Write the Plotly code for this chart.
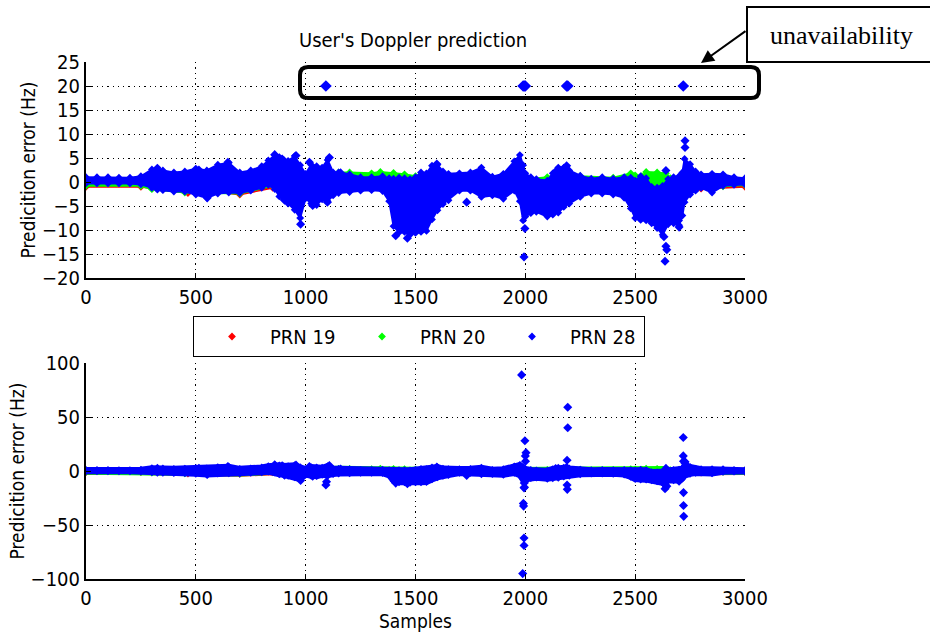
import plotly.graph_objects as go

# ---------------- data ----------------
x_ticks = [0, 500, 1000, 1500, 2000, 2500, 3000]
top_y_ticks = [-20, -15, -10, -5, 0, 5, 10, 15, 20, 25]
bottom_y_ticks = [-100, -50, 0, 50, 100]

# PRN 28 (blue) cloud: upper / lower edge of the dense band
prn28_samples = [0, 50, 100, 150, 200, 250, 300, 325, 350, 400, 450, 500, 550, 600, 650, 700, 750,
                 800, 830, 860, 880, 900, 920, 950, 975, 1000, 1025, 1050, 1075, 1100, 1125, 1150,
                 1200, 1250, 1300, 1350, 1380, 1400, 1425, 1450, 1475, 1500, 1525, 1550, 1575,
                 1600, 1625, 1650, 1700, 1750, 1800, 1850, 1900, 1950, 1975, 1990, 2000, 2025,
                 2050, 2100, 2125, 2150, 2175, 2200, 2250, 2300, 2350, 2400, 2450, 2480, 2500,
                 2525, 2550, 2575, 2600, 2625, 2650, 2675, 2700, 2715, 2725, 2750, 2775, 2800,
                 2850, 2900, 2950, 3000]
prn28_upper = [1.0, 1.0, 1.0, 0.9, 0.9, 1.2, 2.6, 3.0, 2.4, 2.0, 2.2, 2.8, 2.4, 3.6, 4.0, 2.0, 2.4,
               3.3, 4.5, 5.6, 5.2, 4.6, 4.4, 5.4, 3.5, 1.7, 3.6, 3.3, 3.0, 4.6, 2.0, 2.0,
               1.6, 1.0, 1.0, 1.2, 0.8, 0.7, 0.9, 0.8, 0.6, 1.0, 2.0, 1.8, 3.4,
               3.6, 2.2, 1.7, 1.8, 2.0, 3.0, 1.1, 1.7, 4.3, 5.6, 3.5, 1.8, 1.0,
               0.6, 0.3, 1.8, 3.0, 3.0, 2.4, 1.3, 0.7, 1.0, 0.7, 1.0, 0.9, 0.3,
               1.2, 0.8, -1.0, -1.2, -0.8, 0.6, 1.0, 1.2, 2.0, 4.8, 3.7, 2.2, 1.6,
               1.7, 1.6, 1.0, 0.8]
prn28_lower = [-0.3, -0.3, -0.3, -0.3, -0.3, -0.5, -1.2, -1.6, -1.7, -2.0, -2.0, -2.6, -3.3, -2.4, -2.2, -2.3, -1.8,
               -1.2, -0.6, -1.5, -3.0, -3.6, -4.5, -5.8, -7.5, -3.4, -4.5, -4.8, -3.6, -4.0, -2.8, -2.3,
               -2.1, -1.8, -1.7, -1.9, -4.0, -9.2, -10.5, -10.4, -11.0, -10.6, -10.4, -10.2, -7.8,
               -5.9, -4.6, -3.8, -1.8, -1.8, -3.1, -2.8, -3.5, -1.8, -4.0, -8.0, -7.2, -6.5,
               -6.2, -7.2, -6.8, -6.4, -5.2, -4.5, -3.1, -2.4, -2.4, -2.6, -3.3, -5.5, -7.5,
               -7.9, -8.0, -8.6, -9.6, -11.0, -8.8, -8.6, -9.0, -7.0, -4.2, -2.6, -1.8, -1.2,
               -2.2, -0.8, -0.6, -0.5]

# PRN 28 isolated points around the band
prn28_spread_s = [514, 552, 646, 859, 893, 904, 956, 977, 1017, 1032, 1099, 1108, 1159, 1410, 1463,
                  1597, 1733, 1994, 1998, 2138, 2188, 2631, 2640, 2640, 2644, 2636, 2697, 2700, 2727, 2727]
prn28_spread_v = [2.5, -3.3, 4.1, 5.7, 4.8, -3.8, 5.5, -8.8, 4.1, -4.9, -4.2, 5.1, 1.9, -11.2, -11.7,
                  3.75, -4.2, -15.6, -9.7, 2.2, 3.4, -11.4, 2.4, -13.4, -14.1, -16.5, -8.0, -9.4, 8.6, 7.2]

# PRN 20 (green) band
prn20_samples = [0, 250, 300, 450, 700, 850, 1000, 1150, 1200, 1300, 1340, 1400, 1450, 1500, 1550,
                 1700, 2000, 2100, 2200, 2250, 2400, 2480, 2500, 2530, 2550, 2600, 2640, 2660, 2700,
                 2800, 2900, 3000]
prn20_upper = [0.6, 0.6, 1.0, 1.2, 1.0, 1.0, 1.5, 2.0, 2.0, 1.8, 2.1, 1.9, 1.6, 1.2, 0.6,
               0.8, 0.5, 1.0, 1.8, 1.2, 0.9, 1.8, 1.4, 1.2, 2.1, 2.0, 1.8, 0.8, 0.5,
               0.8, 0.6, 0.5]
prn20_lower = [-0.8, -0.8, -1.5, -2.2, -2.4, -0.8, -2.0, -1.5, -1.0, -1.0, -1.0, -1.5, -2.0, -2.0, -2.0,
               -1.0, -1.0, -1.0, -1.0, -1.0, -1.0, -1.0, -1.5, -1.2, -1.5, -1.8, -1.5, -1.0, -1.0,
               -0.8, -0.9, -0.6]

# PRN 19 (red) band
prn19_samples = [0, 250, 464, 500, 700, 850, 1500, 2000, 2600, 2800, 3000]
prn19_upper = [0.3, 0.3, 0.5, 0.5, 0.5, 0.5, 0.5, 0.5, 0.5, 0.4, 0.3]
prn19_lower = [-1.0, -1.0, -2.3, -1.5, -2.6, -1.2, -1.5, -1.5, -1.5, -1.4, -1.0]

# unavailability epochs: flagged at 20 Hz in the upper plot
unavail_s = [1092, 1990, 1995, 2000, 2188, 2193, 2719]
unavail_flag = [20, 20, 20, 20, 20, 20, 20]

# the same epochs, with their real errors, in the lower plot
unavail_true_s = [1092, 1095, 1983, 1998, 2003, 2000, 2001, 1995, 1996, 1991, 1992, 1994, 1994, 1988,
                  2193, 2193, 2190, 2190, 2191, 2719, 2719, 2720, 2720, 2720, 2721]
unavail_true_v = [-13, -10, 89, 28, 17, 14, 9, -11, -15, -30, -32.5, -62, -69, -95,
                  59, 40, 10, -13, -17, 31, 14, 9, -20, -32, -42]

# ---------------- style ----------------
FONT = "Liberation Sans Narrow, Arial Narrow, DejaVu Sans Condensed, Liberation Sans, Arial, sans-serif"
RED, GREEN, BLUE = "#ff0000", "#00ff00", "#0000ff"
W, H = 930, 635
L, R, T, B = 86, 745, 62, 579


def px2x(px):
    return (px - L) / (R - L)


def py2y(py):
    return (B - py) / (B - T)


fig = go.Figure()

series = [
    ("PRN 19", RED, prn19_samples, prn19_upper, prn19_lower),
    ("PRN 20", GREEN, prn20_samples, prn20_upper, prn20_lower),
    ("PRN 28", BLUE, prn28_samples, prn28_upper, prn28_lower),
]

for row, (xa, ya, lw) in enumerate([("x", "y", 2), ("x2", "y2", 6)]):
    for name, col, s, up, lo in series:
        fig.add_trace(go.Scatter(
            x=s + s[::-1], y=up + lo[::-1], xaxis=xa, yaxis=ya,
            mode="lines", fill="toself", fillcolor=col,
            line=dict(color=col, width=lw), hoverinfo="skip", showlegend=False))
        fig.add_trace(go.Scatter(
            x=s + s, y=up + lo, xaxis=xa, yaxis=ya, mode="markers", name=name,
            marker=dict(symbol="diamond", size=6, color=col),
            showlegend=(row == 0)))
    fig.add_trace(go.Scatter(
        x=prn28_spread_s, y=prn28_spread_v, xaxis=xa, yaxis=ya, mode="markers",
        marker=dict(symbol="diamond", size=7, color=BLUE), showlegend=False))

fig.add_trace(go.Scatter(
    x=unavail_s, y=unavail_flag, xaxis="x", yaxis="y", mode="markers",
    marker=dict(symbol="diamond", size=9, color=BLUE), showlegend=False))
fig.add_trace(go.Scatter(
    x=unavail_true_s, y=unavail_true_v, xaxis="x2", yaxis="y2", mode="markers",
    marker=dict(symbol="diamond", size=7, color=BLUE), showlegend=False))

axis_common = dict(
    showline=True, linecolor="black", linewidth=2, mirror=False,
    ticks="inside", ticklen=5, tickcolor="black", tickwidth=1,
    showgrid=True, gridcolor="#000000", gridwidth=1.3, griddash="1.3px,4px",
    zeroline=False, tickfont=dict(family=FONT, size=20, color="black"),
)

top_dom = [py2y(278), 1.0]
bot_dom = [0.0, py2y(363)]

fig.update_layout(
    width=W, height=H,
    margin=dict(l=L, r=W - R, t=T, b=H - B, autoexpand=False),
    paper_bgcolor="white", plot_bgcolor="white",
    font=dict(family=FONT, size=20, color="black"),
    xaxis=dict(range=[0, 3000], tickvals=x_ticks, domain=[0, 1], anchor="y", **axis_common),
    yaxis=dict(range=[-20, 25], tickvals=top_y_ticks, domain=top_dom, anchor="x",
               title=dict(text="Predicition error (Hz)", standoff=1,
                          font=dict(family=FONT, size=19)), **axis_common),
    xaxis2=dict(range=[0, 3000], tickvals=x_ticks, domain=[0, 1], anchor="y2",
                title=dict(text="Samples", standoff=0, font=dict(family=FONT, size=19)), **axis_common),
    yaxis2=dict(range=[-100, 100], tickvals=bottom_y_ticks, domain=bot_dom, anchor="x2",
                title=dict(text="Predicition error (Hz)", standoff=1,
                           font=dict(family=FONT, size=19)), **axis_common),
    showlegend=True,
    legend=dict(orientation="h", x=px2x(193), y=py2y(316), xanchor="left", yanchor="top",
                bordercolor="black", borderwidth=1, bgcolor="white",
                font=dict(family=FONT, size=20), itemwidth=66, entrywidth=69,
                itemclick=False),
)

# title
fig.add_annotation(x=px2x(413), y=py2y(40), xref="paper", yref="paper", showarrow=False,
                   xanchor="center", yanchor="middle",
                   text="User's Doppler prediction", font=dict(family=FONT, size=20))

# rounded box around flagged points
x0, x1, y0, y1 = px2x(300), px2x(759), py2y(98), py2y(67)
rx, ry = 8 / (R - L), 8 / (B - T)
path = (f"M {x0+rx},{y1} L {x1-rx},{y1} Q {x1},{y1} {x1},{y1-ry} L {x1},{y0+ry} "
        f"Q {x1},{y0} {x1-rx},{y0} L {x0+rx},{y0} Q {x0},{y0} {x0},{y0+ry} "
        f"L {x0},{y1-ry} Q {x0},{y1} {x0+rx},{y1} Z")
fig.add_shape(type="path", path=path, xref="paper", yref="paper",
              line=dict(color="black", width=4))

# callout box
fig.add_shape(type="rect", xref="paper", yref="paper",
              x0=px2x(747), x1=px2x(945), y0=py2y(62), y1=py2y(7),
              line=dict(color="black", width=2), fillcolor="white")
fig.add_annotation(x=px2x(841), y=py2y(35), xref="paper", yref="paper", showarrow=False,
                   xanchor="center", yanchor="middle",
                   text="unavailability",
                   font=dict(family="Liberation Serif, Times New Roman, serif", size=26, color="black"))
fig.add_annotation(x=px2x(701), y=py2y(63), xref="paper", yref="paper", text="",
                   showarrow=True, ax=46, ay=-33, arrowhead=2, arrowsize=1.3,
                   arrowwidth=2, arrowcolor="black")

fig.write_html("out.html", config={"displayModeBar": False},
               post_script="document.body.style.margin='0';")
